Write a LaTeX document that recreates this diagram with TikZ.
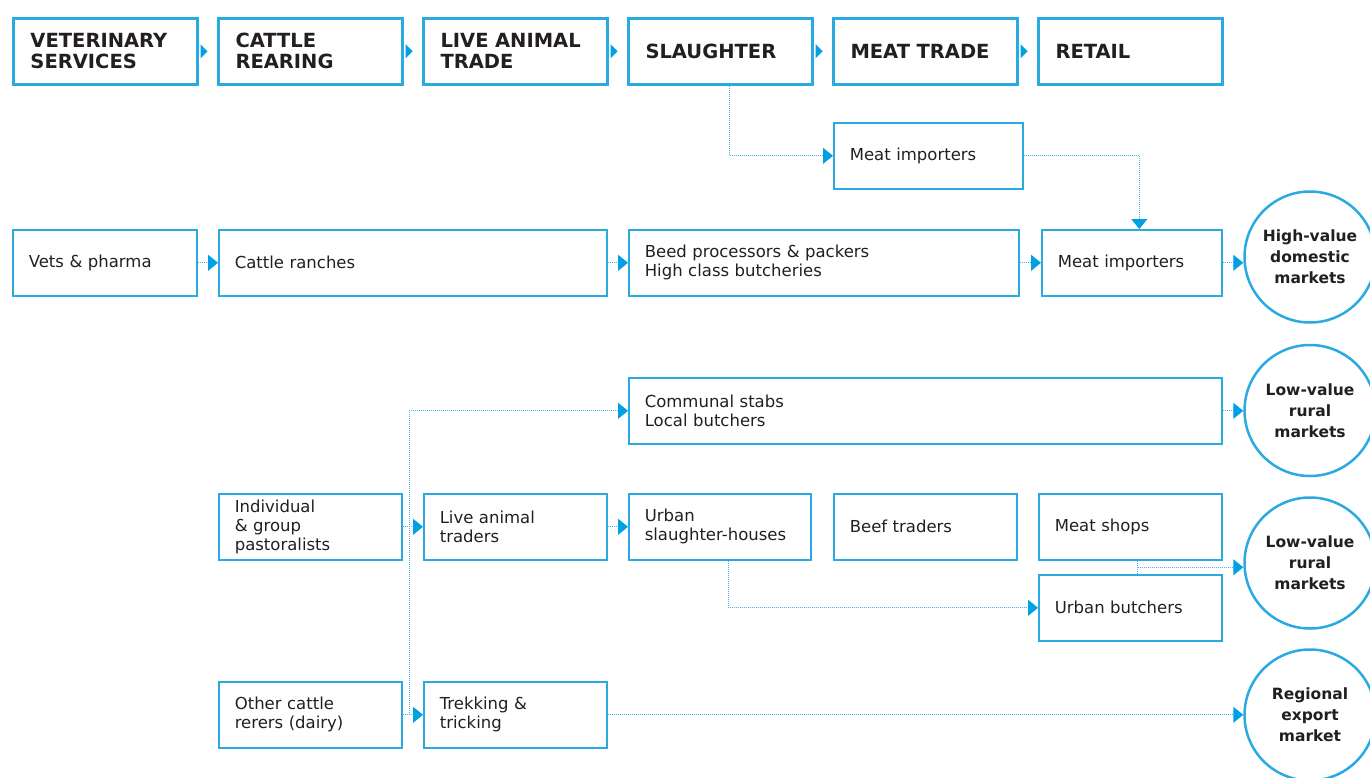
\documentclass[tikz,border=0pt]{standalone}
\usepackage{fontspec}
\setmainfont{DejaVu Sans}
\usetikzlibrary{arrows.meta,calc}
\definecolor{frameblue}{RGB}{41,171,226}
\definecolor{tipblue}{RGB}{0,160,227}
\definecolor{lineblue}{RGB}{70,178,232}
\definecolor{ink}{RGB}{35,31,32}

\begin{document}
\begin{tikzpicture}[x=1pt,y=-1pt,
  stage/.style={draw=frameblue,line width=3pt,anchor=north west,minimum height=66.5pt,
    inner xsep=17pt,inner ysep=0pt,text width=150pt,align=left,
    font=\fontsize{19.5}{21}\selectfont\bfseries,text=ink},
  actor/.style={draw=frameblue,line width=1.6pt,anchor=north west,minimum height=66pt,
    inner xsep=16pt,inner ysep=0pt,text width=#1,align=left,
    font=\fontsize{16.5}{19}\selectfont,text=ink},
  market/.style={circle,draw=frameblue,line width=2.5pt,minimum size=131pt,inner sep=0pt,
    align=center,font=\fontsize{15.5}{21}\selectfont\bfseries,text=ink},
  wire/.style={draw=lineblue,line width=1pt,densely dotted},
  link/.style={wire,-{Triangle[length=10pt,width=16pt,color=tipblue]}},
  stagetip/.style={fill=tipblue},
]
\clip (0,0) rectangle (1370,777);

% value-chain stages
\node[stage] (h1) at (12,16.5)   {VETERINARY\\SERVICES};
\node[stage] (h2) at (217,16.5)  {CATTLE\\REARING};
\node[stage] (h3) at (422,16.5)  {LIVE ANIMAL\\TRADE};
\node[stage] (h4) at (627,16.5)  {SLAUGHTER};
\node[stage] (h5) at (832,16.5)  {MEAT TRADE};
\node[stage] (h6) at (1037,16.5) {RETAIL};

\foreach \s in {h1,h2,h3,h4,h5}{
  \fill[stagetip] ([xshift=1.5pt,yshift=7pt]\s.east) -- ([xshift=8.5pt]\s.east)
    -- ([xshift=1.5pt,yshift=-7pt]\s.east) -- cycle;
}

% actors
\node[actor=157pt] (imp1) at (833,122) {Meat importers};

\node[actor=152pt] (vets)  at (12,229)   {Vets \& pharma};
\node[actor=356pt] (ranch) at (218,229)  {Cattle ranches};
\node[actor=358pt] (proc)  at (628,229)  {Beed processors \& packers\\High class butcheries};
\node[actor=148pt] (imp2)  at (1041,229) {Meat importers};

\node[actor=561pt] (comm)  at (628,377)  {Communal stabs\\Local butchers};

\node[actor=151pt] (past)  at (218,493)  {Individual\\\& group\\pastoralists};
\node[actor=151pt] (live)  at (423,493)  {Live animal\\traders};
\node[actor=150pt] (urban) at (628,493)  {Urban\\slaughter-houses};
\node[actor=151pt] (beef)  at (833,493)  {Beef traders};
\node[actor=151pt] (shops) at (1038,493) {Meat shops};
\node[actor=151pt] (butch) at (1038,574) {Urban butchers};

\node[actor=151pt] (dairy) at (218,681)  {Other cattle\\rerers (dairy)};
\node[actor=151pt] (trek)  at (423,681)  {Trekking \&\\tricking};

% end markets
\node[market] (dom)    at (1310,257)   {High-value\\domestic\\markets};
\node[market] (rural1) at (1310,410.5) {Low-value\\rural\\markets};
\node[market] (rural2) at (1310,563)   {Low-value\\rural\\markets};
\node[market] (export) at (1310,715)   {Regional\\export\\market};

% flows
\draw[link] ([xshift=9pt]h4.south) |- (imp1.west);
\draw[link] (imp1.east) -| ([xshift=7.5pt]imp2.north);

\draw[link] (vets.east) -- (ranch.west);
\draw[link] (ranch.east) -- (proc.west);
\draw[link] (proc.east) -- (imp2.west);
\draw[link] (imp2.east) -- (imp2.east -| dom.west);

\coordinate (fork) at ($(dairy.east)!0.32!(trek.west)$);
\draw[link] (fork) |- (comm.west);
\draw[link] (comm.east) -- (comm.east -| rural1.west);

\draw[link] (past.east) -- (live.west);
\draw[link] (live.east) -- (urban.west);
\draw[link] ([xshift=9pt]urban.south) |- (butch.west);

\draw[wire] ([xshift=7.5pt]shops.south) -- ([xshift=7.5pt]butch.north);
\coordinate (merge) at ($([xshift=7.5pt]shops.south)!0.5!([xshift=7.5pt]butch.north)$);
\draw[link] (merge) -- (merge -| rural2.west);

\draw[link] (dairy.east) -- (trek.west);
\draw[link] (trek.east) -- (trek.east -| export.west);
\end{tikzpicture}
\end{document}
